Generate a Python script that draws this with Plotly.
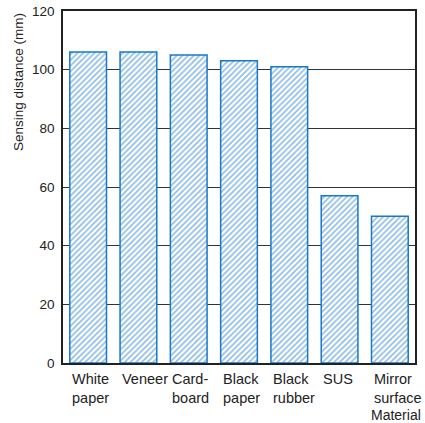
import plotly.graph_objects as go

categories = ["White paper", "Veneer", "Card-board", "Black paper", "Black rubber", "SUS", "Mirror surface"]
label_lines = [["White", "paper"], ["Veneer", ""], ["Card-", "board"], ["Black", "paper"], ["Black", "rubber"], ["SUS", ""], ["Mirror", "surface"]]
values = [106, 106, 105, 103, 101, 57, 50]
y_ticks = [0, 20, 40, 60, 80, 100, 120]

blue = "#1878cc"
bargap = 0.27
half = (1 - bargap) / 2

fig = go.Figure()
fig.add_trace(go.Bar(
    x=list(range(len(categories))), y=values,
    marker=dict(color="white", line=dict(color=blue, width=1.5),
                pattern=dict(shape="/", fgcolor=blue, bgcolor="white", size=4, solidity=0.4)),
    hoverinfo="skip",
))

annotations = []
for i, lines in enumerate(label_lines):
    annotations.append(dict(x=i - half, y=0, xref="x", yref="y", xanchor="left", yanchor="top",
                            yshift=-6, text="<br>".join(l for l in lines if l), showarrow=False,
                            align="left", font=dict(size=14.5, color="#222")))
annotations.append(dict(x=1.0, y=0, xref="paper", yref="paper", xanchor="right", yanchor="top",
                        xshift=8, yshift=-42, text="Material", showarrow=False,
                        font=dict(size=14, color="#222")))
annotations.append(dict(x=0, y=1, xref="paper", yref="paper", xanchor="center", yanchor="top",
                        xshift=-45, yshift=0, text="Sensing distance (mm)", textangle=-90, showarrow=False,
                        font=dict(size=13.5, color="#222")))

fig.update_layout(
    width=425, height=423,
    margin=dict(l=63, r=10, t=11, b=60),
    paper_bgcolor="white", plot_bgcolor="white",
    bargap=bargap, showlegend=False,
    font=dict(family="Liberation Sans, Arial, sans-serif", color="#222"),
    annotations=annotations,
    xaxis=dict(range=[-0.5, 6.5], showticklabels=False, ticks="", showgrid=False, automargin=False,
               showline=True, linecolor="#222", linewidth=1.5, mirror=True, zeroline=False),
    yaxis=dict(range=[0, 120], tickvals=y_ticks, ticks="", showgrid=True, gridcolor="#333", gridwidth=1,
               showline=True, linecolor="#222", linewidth=1.5, mirror=True, zeroline=False, automargin=False,
               tickfont=dict(size=13.5, color="#222"), ticklabelstandoff=4, ticklabeloverflow="allow"),
)

fig.write_html("out.html", config={"displayModeBar": False},
               post_script="document.body.style.margin='0';document.body.style.overflow='hidden';")
